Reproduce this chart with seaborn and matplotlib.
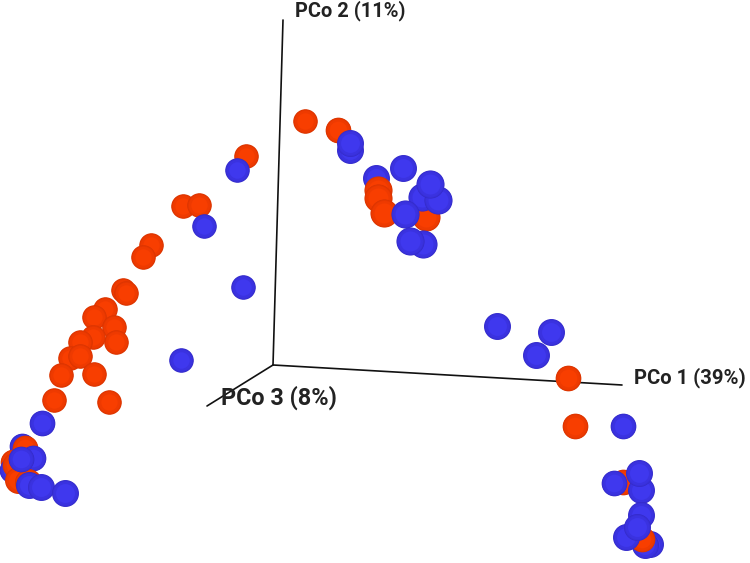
import matplotlib
matplotlib.use("Agg")
import matplotlib.pyplot as plt
import pandas as pd
import seaborn as sns

# Projected sample positions (picture units), listed back to front
pco_x = [305,338,350,350,246,237,183,199,204,151,143,243,
         123,126,105,94,114,116,93,80,70,80,61,94,54,109,42,181,
         22,25,33,13,12,15,18,28,21,29,41,65,
         376,403,378,378,384,426,422,438,430,405,423,410,
         497,551,536,568,575,623,
         623,614,641,639,641,650,645,642,626,637]
pco_y = [121,130,150,143,156,170,206,205,226,245,257,287,
         290,293,309,317,327,342,337,342,358,356,375,374,400,402,423,360,
         446,448,458,462,470,465,480,482,459,485,487,493,
         178,168,190,198,213,217,197,200,184,214,244,241,
         326,332,355,378,426,426,
         482,483,490,473,515,544,545,539,537,527]
# Nearness to the viewer: nearer spheres look larger
nearness = [0,1,2,2,0,0,0,0,0,0,0,0,
            0,0,0,0,0,0,0,0,0,0,0,0,0,0,1,0,
            1,1,1,1,1,1,2,2,1,2,2,2,
            2,2,3,3,3,3,3,3,3,3,3,3,
            2,2,2,1,1,1,
            1,1,2,2,2,2,2,1,2,2]
group = ["o","o","b","b","o","b","o","o","b","o","o","b",
         "o","o","o","o","o","o","o","o","o","o","o","o","o","o","b","b",
         "b","o","b","o","b","o","o","o","b","b","b","b",
         "b","b","o","o","o","o","b","b","b","b","b","b",
         "b","b","b","o","o","b",
         "o","b","b","b","b","b","b","o","b","b"]
axis_names = ["PCo 1 (39%)", "PCo 2 (11%)", "PCo 3 (8%)"]
axis_end_x = [622, 283, 207]
axis_end_y = [385, 20, 406]
origin_x, origin_y = 273, 365

df = pd.DataFrame({"x": pco_x, "y": pco_y, "group": group, "near": nearness})

sns.set_theme(style="white")
plt.rcParams["font.family"] = ["Roboto", "DejaVu Sans"]
fig = plt.figure(figsize=(7.5, 5.63), dpi=100)
ax = fig.add_axes([0, 0, 1, 1])

for ex, ey in zip(axis_end_x, axis_end_y):
    sns.lineplot(x=[origin_x, ex], y=[origin_y, ey], color="#111111", lw=1.2,
                 ax=ax, zorder=1, sort=False, estimator=None)

shades = {"o": ["#d83400", "#e43700", "#ee3a00", "#f83e00"],
          "b": ["#3229c8", "#3830d6", "#3a32e0", "#3f38ee"]}
shrink = [0, 1, 3, 8]
for i, row in enumerate(df.itertuples()):
    diameter = 24.5 + 1.2 * row.near
    for k in range(4):
        sns.scatterplot(x=[row.x], y=[row.y], color=shades[row.group][k],
                        s=((diameter - shrink[k]) * 0.72) ** 2, linewidth=0,
                        ax=ax, zorder=2 + i + k * 0.1, legend=False)

ax.set_xlim(0, 750)
ax.set_ylim(563, 0)
ax.axis("off")

label_x = [634, 295, 221]
label_y = [378, 11, 398]
label_size = [14.6, 14.4, 16.8]
for name, lx, ly, fs in zip(axis_names, label_x, label_y, label_size):
    ax.text(lx, ly, name, fontsize=fs, fontweight="bold", color="#222222",
            va="center", ha="left", zorder=500)

fig.savefig("out.png", dpi=100)
